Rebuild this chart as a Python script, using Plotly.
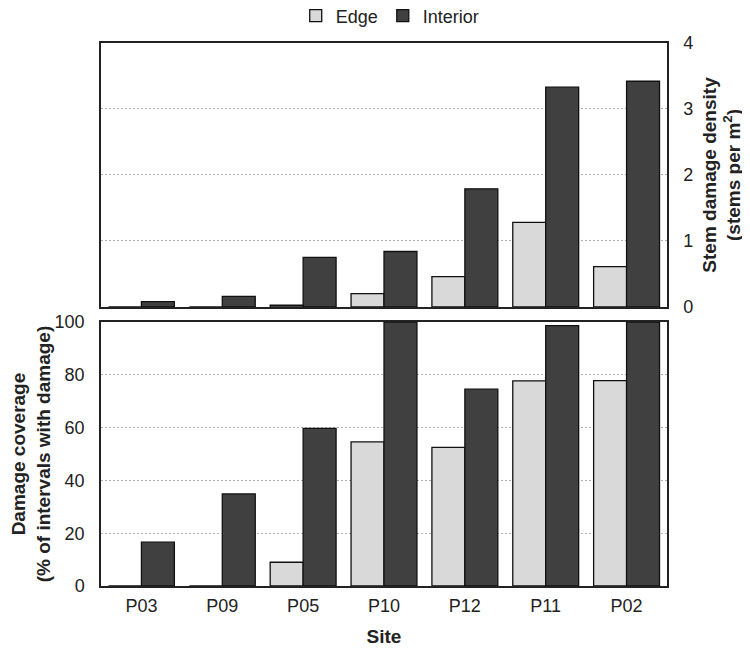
import plotly.graph_objects as go
from plotly.subplots import make_subplots

sites = ["P03", "P09", "P05", "P10", "P12", "P11", "P02"]
density_edge = [0, 0, 0.025, 0.20, 0.46, 1.28, 0.61]
density_interior = [0.08, 0.16, 0.75, 0.84, 1.79, 3.33, 3.42]
coverage_edge = [0, 0, 9.0, 54.6, 52.5, 77.7, 77.8]
coverage_interior = [16.6, 34.9, 59.7, 100, 74.6, 98.7, 100]

EDGE_C = "#d9d9d9"
INT_C = "#404040"
FONT = "Liberation Sans, Arial, sans-serif"

fig = make_subplots(rows=2, cols=1, shared_xaxes=True, vertical_spacing=0.028)

line = dict(color="#111111", width=1.3)
fig.add_trace(go.Bar(x=sites, y=density_edge, name="Edge", marker=dict(color=EDGE_C, line=line),
                     legendgroup="e", showlegend=True), row=1, col=1)
fig.add_trace(go.Bar(x=sites, y=density_interior, name="Interior", marker=dict(color=INT_C, line=line),
                     legendgroup="i", showlegend=True), row=1, col=1)
fig.add_trace(go.Bar(x=sites, y=coverage_edge, name="Edge", marker=dict(color=EDGE_C, line=line),
                     legendgroup="e", showlegend=False), row=2, col=1)
fig.add_trace(go.Bar(x=sites, y=coverage_interior, name="Interior", marker=dict(color=INT_C, line=line),
                     legendgroup="i", showlegend=False), row=2, col=1)

axis_common = dict(showline=True, linecolor="#222222", linewidth=1.5, mirror=True,
                   ticks="", zeroline=False, automargin=False)

fig.update_layout(
    width=750, height=660,
    margin=dict(l=93, r=91, t=35, b=82, autoexpand=False),
    plot_bgcolor="white", paper_bgcolor="white",
    barmode="group", bargap=0.185, bargroupgap=0,
    font=dict(family=FONT, size=18, color="#222222"),
    legend=dict(orientation="h", x=0.511, xanchor="center", y=1.05, yanchor="middle",
                yref="paper", font=dict(size=18), traceorder="normal",
                tracegroupgap=0, bgcolor="rgba(0,0,0,0)", itemwidth=30),
)

fig.update_xaxes(**axis_common, showgrid=False)
fig.update_xaxes(showticklabels=False, row=1, col=1)
fig.update_xaxes(title=dict(text="<b>Site</b>", font=dict(size=19), standoff=14),
                 tickfont=dict(size=18), ticklabelstandoff=3, row=2, col=1)

fig.update_yaxes(**axis_common, showgrid=True, gridcolor="#b0b0b0", griddash="2px,2px", gridwidth=1)
fig.update_yaxes(range=[0, 4], dtick=1, side="right", tickfont=dict(size=18), ticklabelstandoff=11,
                 title=dict(text="<b>Stem damage density<br>(stems per m<sup>2</sup>)</b>",
                            font=dict(size=19), standoff=10),
                 row=1, col=1)
fig.update_yaxes(range=[0, 100], dtick=20, tickfont=dict(size=18), ticklabelstandoff=11,
                 title=dict(text="<b>Damage coverage<br>(% of intervals with damage)</b>",
                            font=dict(size=19), standoff=17),
                 row=2, col=1)

fig.layout.yaxis.domain = [0.514, 1.0]
fig.layout.yaxis2.domain = [0.0, 0.486]

fig.write_html("out.html")
